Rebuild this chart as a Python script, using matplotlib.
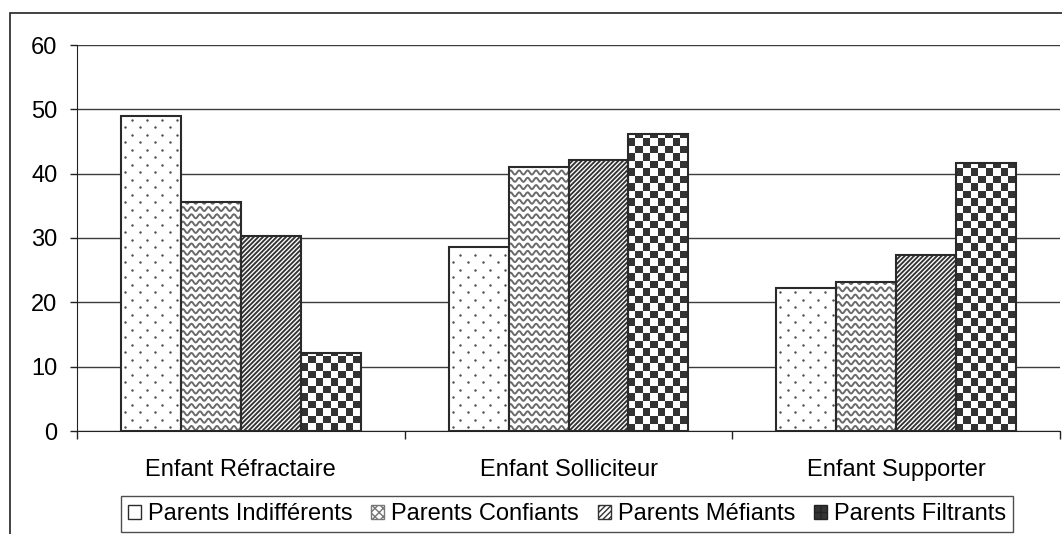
import numpy as np
import matplotlib
matplotlib.use("Agg")
import matplotlib.pyplot as plt
import matplotlib.patches as mpatches
from matplotlib.collections import LineCollection
from matplotlib.colors import ListedColormap

plt.rcParams['font.family'] = ['Liberation Sans', 'DejaVu Sans']

# Data
categories = ["Enfant Réfractaire", "Enfant Solliciteur", "Enfant Supporter"]
series = ["Parents Indifférents", "Parents Confiants", "Parents Méfiants", "Parents Filtrants"]
indifferents = [49.0, 28.6, 22.3]
confiants = [35.6, 41.1, 23.2]
mefiants = [30.3, 42.1, 27.3]
filtrants = [12.1, 46.1, 41.6]
yticks = [0, 10, 20, 30, 40, 50, 60]

W, H = 1062, 534
fig = plt.figure(figsize=(W / 100, H / 100), dpi=100)
ax = fig.add_axes([77 / W, 1 - 431 / H, 983 / W, 386 / H])
ax.set_xlim(-0.5, 2.5)
ax.set_ylim(0, 60)
ax.set_autoscale_on(False)

# size of one pixel in data units
px = 3 / 983
py = 60 / 386

FS = 17
edge = '#2a2a2a'


def dots(bar):
    x0, y0 = bar.get_x(), bar.get_y()
    w, h = bar.get_width() / px, bar.get_height() / py
    xs, ys = [], []
    for i, yy in enumerate(np.arange(4, h, 7.5)):
        start = 4 if i % 2 == 0 else 11.5
        for xx in np.arange(start, w, 15):
            xs.append(x0 + xx * px)
            ys.append(y0 + yy * py)
    sc = ax.scatter(xs, ys, s=3.0, color='#4a4a4a', zorder=3, linewidths=0)
    sc.set_clip_path(bar)


def waves(bar):
    x0, y0 = bar.get_x(), bar.get_y()
    w, h = bar.get_width() / px, bar.get_height() / py
    t = np.linspace(0, w, 200)
    segs = []
    for yy in np.arange(3, h + 4, 7.3):
        yv = yy + 2.0 * np.sin(2 * np.pi * t / 8.5)
        segs.append(np.column_stack([x0 + t * px, y0 + yv * py]))
    lc = LineCollection(segs, colors='#6a6a6a', linewidths=1.4, zorder=3)
    ax.add_collection(lc)
    lc.set_clip_path(bar)


def stripes(bar):
    x0, y0 = bar.get_x(), bar.get_y()
    w, h = bar.get_width() / px, bar.get_height() / py
    segs = []
    for c in np.arange(-h, w, 4.6):
        segs.append([(x0 + c * px, y0), (x0 + (c + h) * px, y0 + h * py)])
    lc = LineCollection(segs, colors='#333333', linewidths=1.35, zorder=3)
    ax.add_collection(lc)
    lc.set_clip_path(bar)


def checker(bar):
    x0, y0 = bar.get_x(), bar.get_y()
    w, h = bar.get_width() / px, bar.get_height() / py
    sq = 7.5
    nx, ny = int(np.ceil(w / sq)), int(np.ceil(h / sq))
    grid = (np.add.outer(np.arange(ny), np.arange(nx)) % 2).astype(float)
    im = ax.imshow(grid, cmap=ListedColormap(['#333333', 'white']),
                   extent=(x0, x0 + nx * sq * px, y0, y0 + ny * sq * py),
                   origin='lower', aspect='auto', interpolation='nearest', zorder=3)
    im.set_clip_path(bar)


values = [indifferents, confiants, mefiants, filtrants]
painters = [dots, waves, stripes, checker]
x = np.arange(len(categories))
bw = 60 / 327.7
for k, (vals, paint) in enumerate(zip(values, painters)):
    pos = x + (k - 1.5) * bw
    bars = ax.bar(pos, vals, width=bw, color='white', edgecolor='none', zorder=2)
    for b in bars:
        paint(b)
    ax.bar(pos, vals, width=bw, fill=False, edgecolor=edge, linewidth=1.5, zorder=4)

ax.set_xlim(-0.5, 2.5)
ax.set_ylim(0, 60)

# grid and axes
ax.set_yticks(yticks)
ax.yaxis.grid(True, color='#3c3c3c', linewidth=1.0)
ax.set_axisbelow(True)
for s in ['top', 'right']:
    ax.spines[s].set_visible(False)
ax.spines['left'].set_color('#222222')
ax.spines['bottom'].set_color('#222222')
ax.tick_params(axis='y', length=5, width=1, color='#222222', pad=9, labelsize=FS)
ax.set_xticks(x)
ax.set_xticklabels(categories)
ax.tick_params(axis='x', which='major', length=0, pad=20, labelsize=FS)
ax.set_xticks(np.arange(-0.5, 3.0, 1.0), minor=True)
ax.tick_params(axis='x', which='minor', length=6, width=1, color='#222222')

# legend
handles = [
    mpatches.Patch(facecolor='white', edgecolor=edge, linewidth=1.0),
    mpatches.Patch(facecolor='white', edgecolor='#777777', hatch='xxxx', linewidth=1.0),
    mpatches.Patch(facecolor='white', edgecolor='#333333', hatch='//////', linewidth=1.0),
    mpatches.Patch(facecolor='#333333', edgecolor='#222222', hatch='++', linewidth=1.0),
]
leg = fig.legend(handles, series, loc='center', bbox_to_anchor=(567 / W, 1 - 514 / H),
                 ncol=4, fontsize=FS, frameon=True, fancybox=False, edgecolor='#222222',
                 handlelength=0.55, handleheight=0.55, handletextpad=0.3,
                 columnspacing=0.8, borderpad=0.3, borderaxespad=0)
leg.get_frame().set_linewidth(1.0)

# outer chart border
border = mpatches.Rectangle((10 / W, -0.1), 1.2, 1 - 13 / H + 0.1, transform=fig.transFigure,
                            fill=False, edgecolor='#222222', linewidth=1.2)
fig.patches.append(border)

fig.savefig('out.png', dpi=100)
